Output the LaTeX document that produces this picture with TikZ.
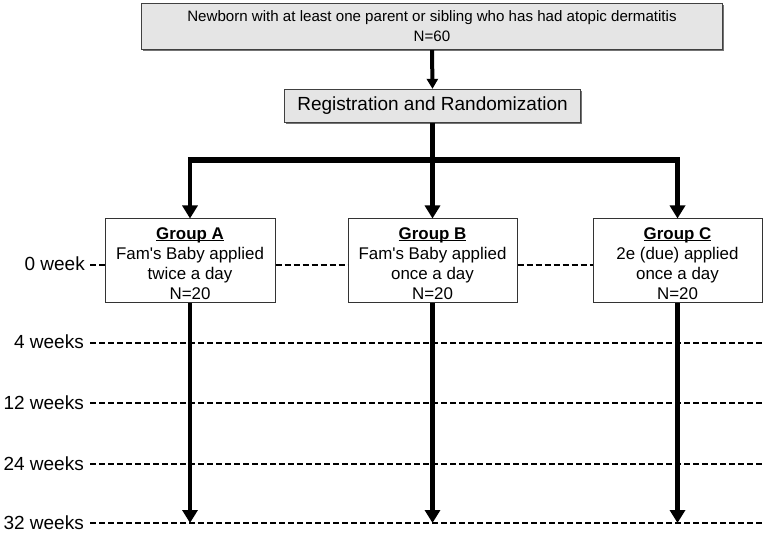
\documentclass[tikz,border=0pt]{standalone}
\usepackage{fontspec}
\setmainfont{Liberation Sans}
\usetikzlibrary{arrows.meta}
\newcommand\gtitle[1]{\setbox0\hbox{\textbf{#1}}\rule{0pt}{17pt}\rlap{\rule[-2pt]{\wd0}{1.1pt}}\box0}
\begin{document}
\begin{tikzpicture}[x=1pt,y=-1pt,
  graybox/.style={draw=black!75,line width=1.3pt,fill=black!10,inner sep=0pt,align=center},
  groupbox/.style={draw=black!80,line width=1pt,fill=white,inner sep=0pt,align=center,
     minimum width=169pt,minimum height=84pt,font=\fontsize{16.9}{20}\selectfont},
  flow/.style={line width=4.3pt},
  flowarrow/.style={line width=4.3pt,-{Triangle[width=15pt,length=13pt]}},
  timeline/.style={line width=2.3pt,dash pattern=on 6pt off 3pt},
  tlabel/.style={anchor=east,inner sep=0pt,font=\fontsize{19}{22}\selectfont}
]
\useasboundingbox (0,0) rectangle (765,534);
\fill[white] (0,0) rectangle (765,534);

% top box with slight shadow
\fill[black!55] (143,5) rectangle (724,51);
\node[graybox,minimum width=581pt,minimum height=46pt,font=\fontsize{15.1}{20}\selectfont]
  (top) at (432,26.5) {Newborn with at least one parent or sibling who has had atopic dermatitis\\N=60};

\fill[black!55] (286,91) rectangle (582,124);
\node[graybox,minimum width=296pt,minimum height=33pt,font=\fontsize{19}{22}\selectfont]
  (reg) at (432.5,106) {Registration and Randomization};

% groups
\node[groupbox,minimum width=170pt] (A) at (190,261) {\gtitle{Group A}\\Fam\textquotesingle s Baby applied\\twice a day\\N=20};
\node[groupbox] (B) at (432.5,261) {\gtitle{Group B}\\Fam\textquotesingle s Baby applied\\once a day\\N=20};
\node[groupbox] (C) at (677.5,261) {\gtitle{Group C}\\2e (due) applied\\once a day\\N=20};

% timeline labels and coordinates
\node[tlabel] (w0) at (85,264) {0 week};
\node[tlabel] (w4) at (84,342) {4 weeks};
\node[tlabel] (w12) at (84,403) {12 weeks};
\node[tlabel] (w24) at (84,464) {24 weeks};
\node[tlabel] (w32) at (84,523) {32 weeks};
\coordinate (e4) at (765,343);
\coordinate (e12) at (765,403);
\coordinate (e24) at (765,464);
\coordinate (e32) at (765,523);

\draw[timeline] (w0.east)++(5,1) -- (A.west |- 0,265);
\draw[timeline] (A.east |- 0,265) -- (B.west |- 0,265);
\draw[timeline] (B.east |- 0,265) -- (C.west |- 0,265);
\draw[timeline] (90,343) -- (e4);
\draw[timeline] (90,403) -- (e12);
\draw[timeline] (90,464) -- (e24);
\draw[timeline] (90,523) -- (e32);

% flow connectors
\coordinate (split) at (432.5,160);
\coordinate (hA) at (190,160);
\coordinate (hC) at (677.5,160);
\coordinate (eA) at (190,523);
\coordinate (eB) at (432.5,523);
\coordinate (eC) at (677.5,523);

\draw[line width=4pt,-{Triangle[width=11pt,length=10pt]}] (top.south) -- (reg.north);
\draw[flow] (reg.south) -- (split);
\draw[line width=5.5pt] ([xshift=-2.15pt]hA) -- ([xshift=2.15pt]hC);
\draw[flowarrow] ([yshift=-2.7pt]hA) -- (A.north);
\draw[flowarrow] (split) -- (B.north);
\draw[flowarrow] ([yshift=-2.7pt]hC) -- (C.north);
\draw[flowarrow] (A.south) -- (eA);
\draw[flowarrow] (B.south) -- (eB);
\draw[flowarrow] (C.south) -- (eC);
\end{tikzpicture}
\end{document}
